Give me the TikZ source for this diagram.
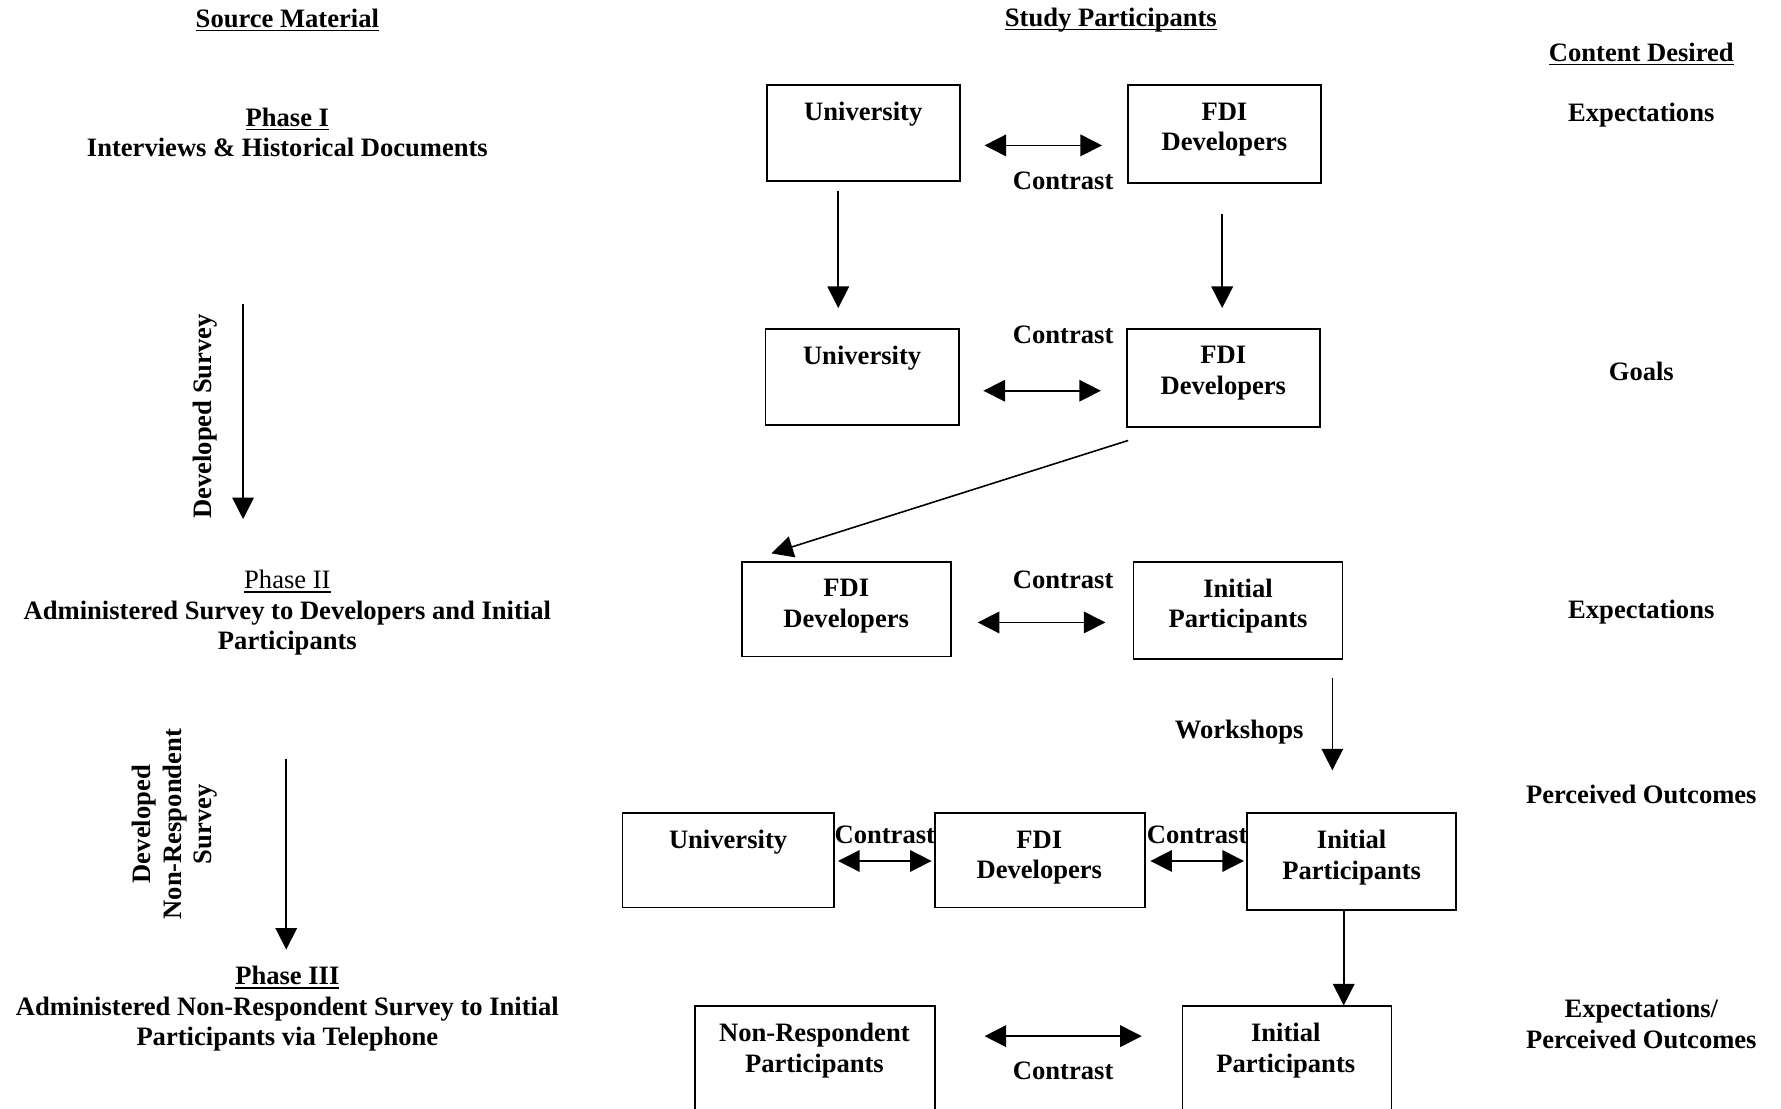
\documentclass[tikz,border=0pt]{standalone}
\usepackage{fontspec}
\setmainfont{Liberation Serif}
\usetikzlibrary{arrows.meta,fit,calc}
\newcommand\myul[1]{\setbox0=\hbox{#1}\rlap{\rule[-1.8pt]{\wd0}{0.75pt}}\box0}
\tikzset{
  box/.style={draw, line width=0.8pt, inner sep=0pt},
  txt/.style={font=\fontsize{11.7}{13.5}\selectfont\bfseries, align=center, inner sep=0pt, yshift=-0.8pt},
  arr/.style={-{Triangle[length=9.5pt,width=9.5pt]}, line width=0.7pt},
  darr/.style={{Triangle[length=9.5pt,width=9.5pt]}-{Triangle[length=9.5pt,width=9.5pt]}, line width=0.7pt}
}
\begin{document}
\begin{tikzpicture}[x=0.5pt,y=-0.5pt]
\clip (0,0) rectangle (1568,976);
\fill[white] (0,0) rectangle (1568,976);
% headers
\node[txt] (hsrc) at (253,16) {\myul{Source Material}};
\node[txt] (hstu) at (978,16) {\myul{Study Participants}};
\node[txt] (hcon) at (1445,46) {\myul{Content Desired}};
% left column
\node[txt] (p1) at (253,115) {\myul{Phase I}\\Interviews \& Historical Documents};
\node[txt] (p2) at (253,538) {{\mdseries\myul{Phase II}}\\Administered Survey to Developers and Initial\\Participants};
\node[txt] (p3) at (253,886.5) {\myul{Phase III}\\Administered Non-Respondent Survey to Initial\\Participants via Telephone};
\coordinate (a1s) at (214,268);
\coordinate (a1e) at (214,457);
\coordinate (a2s) at (252,668);
\coordinate (a2e) at (252,836);
\draw[arr] (a1s) -- (a1e);
\draw[arr] (a2s) -- (a2e);
\node[txt, rotate=90] (ds) at (181,365) {Developed Survey};
\node[txt, rotate=90] (dnr) at (154,724) {Developed\\Non-Respondent\\Survey};
% right column
\node[txt] (r1) at (1445,100) {Expectations};
\node[txt] (r2) at (1445,325) {Goals};
\node[txt] (r3) at (1445,537) {Expectations};
\node[txt] (r4) at (1445,698) {Perceived Outcomes};
\node[txt] (r5) at (1445,900) {Expectations/\\Perceived Outcomes};
% boxes
\node[box, fit={(675,75) (845,159)}] (u1) {};
\node[box, fit={(993,75) (1163,161)}] (f1) {};
\node[box, fit={(674,290) (844,374)}] (u2) {};
\node[box, fit={(992,290) (1162,376)}] (f2) {};
\node[box, fit={(653,495) (837,578)}] (fd3) {};
\node[box, fit={(998,495) (1182,580)}] (ip3) {};
\node[box, fit={(548,716) (734,799)}] (u4) {};
\node[box, fit={(823,716) (1008,799)}] (fd4) {};
\node[box, fit={(1098,716) (1282,801)}] (ip4) {};
\node[box, fit={(612,886) (823,1010)}] (nr5) {};
\node[box, fit={(1041,886) (1225,1010)}] (ip5) {};
% box texts
\node[txt] (u1t) at (760,99) {University};
\node[txt] (f1t) at (1078,112.5) {FDI\\Developers};
\node[txt] (u2t) at (759,314) {University};
\node[txt] (f2t) at (1077,327) {FDI\\Developers};
\node[txt] (fd3t) at (745,532) {FDI\\Developers};
\node[txt] (ip3t) at (1090,532) {Initial\\Participants};
\node[txt] (u4t) at (641,740) {University};
\node[txt] (fd4t) at (915,753.5) {FDI\\Developers};
\node[txt] (ip4t) at (1190,753.5) {Initial\\Participants};
\node[txt] (nr5t) at (717,923.5) {Non-Respondent\\Participants};
\node[txt] (ip5t) at (1132,923.5) {Initial\\Participants};
% labels
\node[txt] (c1) at (936,158) {Contrast};
\node[txt] (c2) at (936,293) {Contrast};
\node[txt] (c3) at (936,509) {Contrast};
\node[txt] (c4) at (779,733) {Contrast};
\node[txt] (c5) at (1054,733) {Contrast};
\node[txt] (c6) at (936,941) {Contrast};
\node[txt] (wk) at (1091,643) {Workshops};
% connectors
\draw[darr] ($(u1.east)+(21,11)$) -- ($(f1.west)+(-22,10)$);
\draw[arr] ($(u1.south)+(-22,8)$) -- ($(u2.north)+(-21,-18)$);
\draw[arr] ($(f1.south)+(-2,27)$) -- ($(f2.north)+(-1,-18)$);
\draw[darr] ($(u2.east)+(21,12)$) -- ($(f2.west)+(-22,11)$);
\draw[arr] ($(f2.south west)+(2,11)$) -- ($(fd3.north west)+(27,-7)$);
\draw[darr] ($(fd3.east)+(23,11.5)$) -- ($(ip3.west)+(-24,10.5)$);
\draw[arr] ($(ip3.south)+(83,16)$) -- ($(ip4.north)+(-17,-37)$);
\draw[darr] ($(u4.east)+(3,0.5)$) -- ($(fd4.west)+(-2,0.5)$);
\draw[darr] ($(fd4.east)+(4,0.5)$) -- ($(ip4.west)+(-2,-0.5)$);
\draw[arr] ($(ip4.south)+(-7,0)$) -- ($(ip5.north)+(50,0)$);
\draw[darr] ($(nr5.north east)+(43,27)$) -- ($(ip5.north west)+(-35,27)$);
\end{tikzpicture}
\end{document}
